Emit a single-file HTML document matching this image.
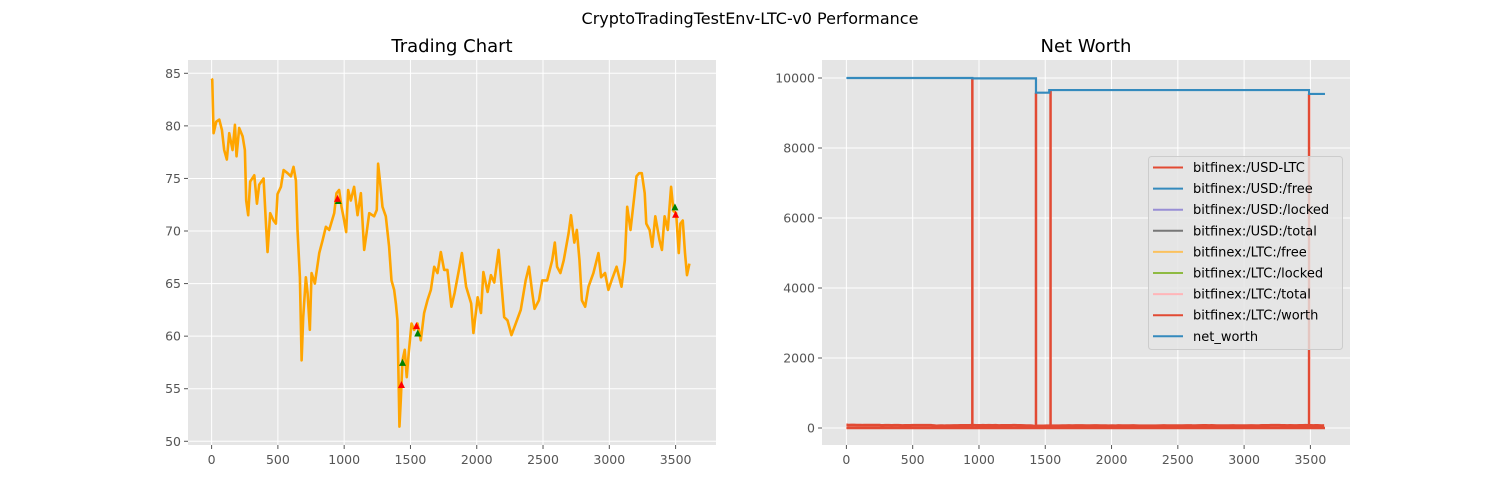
<!DOCTYPE html>
<html><head><meta charset="utf-8"><style>
html,body{margin:0;padding:0;background:#fff;}
svg{display:block;font-family:"DejaVu Sans","Liberation Sans",sans-serif;}
</style></head><body>
<svg id="fig" width="1500" height="500" xmlns="http://www.w3.org/2000/svg">
<text x="750" y="24" text-anchor="middle" font-size="16" fill="#000">CryptoTradingTestEnv-LTC-v0 Performance</text>
<g id="left"></g>
<g id="right"></g>
</svg>
<script>
const steps = [0,5,15,35,58,78,95,115,133,158,176,188,208,234,251,261,276,291,322,342,359,392,410,422,442,467,485,497,523,543,573,598,618,636,648,666,679,691,711,724,741,754,779,812,837,862,887,925,942,962,980,1000,1015,1030,1050,1075,1101,1126,1151,1169,1189,1226,1246,1256,1272,1289,1314,1339,1357,1377,1390,1402,1417,1427,1440,1457,1472,1487,1508,1528,1553,1578,1603,1628,1654,1679,1704,1729,1754,1779,1809,1833,1870,1888,1920,1958,1975,2007,2032,2050,2082,2107,2132,2165,2182,2207,2232,2262,2294,2332,2369,2394,2419,2436,2469,2494,2531,2569,2589,2606,2631,2656,2693,2711,2736,2755,2775,2793,2818,2843,2880,2918,2938,2968,2993,3017,3055,3092,3117,3135,3160,3185,3205,3225,3245,3267,3279,3304,3324,3347,3379,3397,3417,3441,3466,3484,3504,3524,3536,3554,3571,3586,3604];
const prices = [84.5,84.4,79.3,80.4,80.6,79.6,77.7,76.8,79.3,77.7,80.1,77.1,79.8,79.0,77.7,72.9,71.5,74.7,75.3,72.6,74.4,75.0,70.7,68.0,71.7,71.0,70.7,73.5,74.2,75.8,75.5,75.2,76.1,74.8,70.1,65.6,57.7,61.8,65.6,64.1,60.6,66.0,65.0,67.9,69.1,70.4,70.1,71.7,73.6,73.9,72.3,71.0,69.9,73.9,72.9,74.2,71.5,73.6,68.2,69.8,71.7,71.4,72.0,76.4,74.5,72.3,71.4,68.5,65.3,64.4,63.1,61.5,51.4,53.9,57.7,58.7,56.1,58.4,61.2,60.6,61.2,59.6,62.2,63.4,64.4,66.6,66.0,68.0,66.3,66.3,62.8,64.1,66.6,67.9,64.7,63.1,60.3,63.7,62.2,66.1,64.2,65.8,65.1,68.2,65.6,61.8,61.5,60.1,61.2,62.5,65.3,66.6,64.1,62.6,63.4,65.3,65.3,67.2,68.9,66.6,66.0,67.2,69.8,71.5,68.9,70.1,67.2,63.4,62.8,64.7,66.0,67.9,65.6,66.0,64.4,65.3,66.6,64.7,67.2,72.3,70.1,72.9,75.2,75.5,75.5,73.6,70.7,70.1,68.5,71.4,69.1,68.2,71.4,70.1,74.2,71.9,71.7,67.9,70.7,71.0,67.9,65.8,66.9];
const buySteps = [955,1440,1555,3495];
const buyPrices = [72.9,57.5,60.3,72.3];
const sellSteps = [950,1432,1545,3500];
const sellPrices = [73.1,55.4,61.0,71.6];
const leftYTicks = [50,55,60,65,70,75,80,85];
const xTicks = [0,500,1000,1500,2000,2500,3000,3500];
const nwSteps = [0,950,951,1430,1530,3490,3610];
const nwValues = [10000,9990,9990,9580,9655,9545,9545];
const spikeSteps = [950,1430,1540,3490];
const spikeValues = [10000,9580,9655,9545];
const rightYTicks = [0,2000,4000,6000,8000,10000];
const legendLabels = ["bitfinex:/USD-LTC","bitfinex:/USD:/free","bitfinex:/USD:/locked","bitfinex:/USD:/total","bitfinex:/LTC:/free","bitfinex:/LTC:/locked","bitfinex:/LTC:/total","bitfinex:/LTC:/worth","net_worth"];
const legendColors = ["#E24A33","#348ABD","#988ED5","#777777","#FBC15E","#8EBA42","#FFB5B8","#E24A33","#348ABD"];

const NS="http://www.w3.org/2000/svg";
function mk(parent,tag,attrs){const e=document.createElementNS(NS,tag);for(const k in attrs)e.setAttribute(k,attrs[k]);parent.appendChild(e);return e;}

const L={x0:188,x1:716,y0:60,y1:445};
const lx=t=>211.6+t*0.13257;
const ly=p=>73.3+(85-p)*10.514;
const R={x0:822,x1:1350,y0:60,y1:445};
const rx=t=>846.4+t*0.13257;
const ry=v=>428-v*0.035;

function axes(g,A,xs,xf,ys,yf,fmt,title){
  const bg=mk(g,'rect',{x:A.x0,y:A.y0,width:A.x1-A.x0,height:A.y1-A.y0,fill:'#E5E5E5'});
  
  
  xs.forEach(t=>{const X=xf(t);
    const gl=mk(g,'line',{x1:X,x2:X,y1:A.y0,y2:A.y1,stroke:'#fff','stroke-width':1});
    
    
    mk(g,'line',{x1:X,x2:X,y1:A.y1,y2:A.y1+4,stroke:'#555','stroke-width':1});
    const tx=mk(g,'text',{x:X,y:A.y1+19,'text-anchor':'middle','font-size':12.5,fill:'#555'});tx.textContent=t;
    
    
  });
  ys.forEach(v=>{const Y=yf(v);
    const gl=mk(g,'line',{x1:A.x0,x2:A.x1,y1:Y,y2:Y,stroke:'#fff','stroke-width':1});
    
    
    mk(g,'line',{x1:A.x0-4,x2:A.x0,y1:Y,y2:Y,stroke:'#555','stroke-width':1});
    const tx=mk(g,'text',{x:A.x0-7,y:Y+4.5,'text-anchor':'end','font-size':12.5,fill:'#555'});tx.textContent=fmt(v);
    
    
  });
  const tt=mk(g,'text',{x:(A.x0+A.x1)/2,y:A.y0-8,'text-anchor':'middle','font-size':18,fill:'#000'});tt.textContent=title;
  
  
}
const gl=document.getElementById('left'), gr=document.getElementById('right');
axes(gl,L,xTicks,lx,leftYTicks,ly,v=>v,'Trading Chart');
axes(gr,R,xTicks,rx,rightYTicks,ry,v=>v,'Net Worth');

const pl=mk(gl,'polyline',{points:steps.map((t,i)=>lx(t)+','+ly(prices[i])).join(' '),fill:'none',stroke:'#FFA500','stroke-width':2.6,'stroke-linejoin':'round'});


function tri(g,X,Y,c,s){return mk(g,'polygon',{points:`${X-s},${Y+s} ${X+s},${Y+s} ${X},${Y-s}`,fill:c});}
buySteps.forEach((t,i)=>{const m=tri(gl,lx(t),ly(buyPrices[i]),'#008000',3.5);
  
  });
sellSteps.forEach((t,i)=>{const m=tri(gl,lx(t),ly(sellPrices[i]),'#FF0000',3.5);
  
  });

const usdltc=mk(gr,'polyline',{points:steps.map((t,i)=>rx(t)+','+ry(prices[i])).join(' '),fill:'none',stroke:'#E24A33','stroke-width':3});


const base=mk(gr,'line',{x1:rx(0),x2:rx(3610),y1:ry(0),y2:ry(0),stroke:'#E24A33','stroke-width':2.5});


spikeSteps.forEach((t,i)=>{
  const s=mk(gr,'line',{x1:rx(t),x2:rx(t),y1:ry(0),y2:ry(spikeValues[i]),stroke:'#E24A33','stroke-width':2.5});
  
  
});
let pts=[];
nwSteps.forEach((t,i)=>{if(i>0)pts.push(rx(t)+','+ry(nwValues[i-1]));pts.push(rx(t)+','+ry(nwValues[i]));});
const nw=mk(gr,'polyline',{points:pts.join(' '),fill:'none',stroke:'#348ABD','stroke-width':2.2});



const lg=mk(gr,'g',{});


mk(lg,'rect',{x:1148.5,y:156.5,width:194,height:193,rx:3,fill:'#E5E5E5','fill-opacity':0.8,stroke:'#ccc','stroke-width':1});
legendLabels.forEach((lab,i)=>{
  const Y=167.5+i*21.1;
  const e=mk(lg,'g',{});
  
  
  mk(e,'line',{x1:1153,x2:1183,y1:Y,y2:Y,stroke:legendColors[i],'stroke-width':2});
  const t=mk(e,'text',{x:1193,y:Y+4.5,'font-size':13,fill:'#000'});t.textContent=lab;
});
</script>
</body></html>
